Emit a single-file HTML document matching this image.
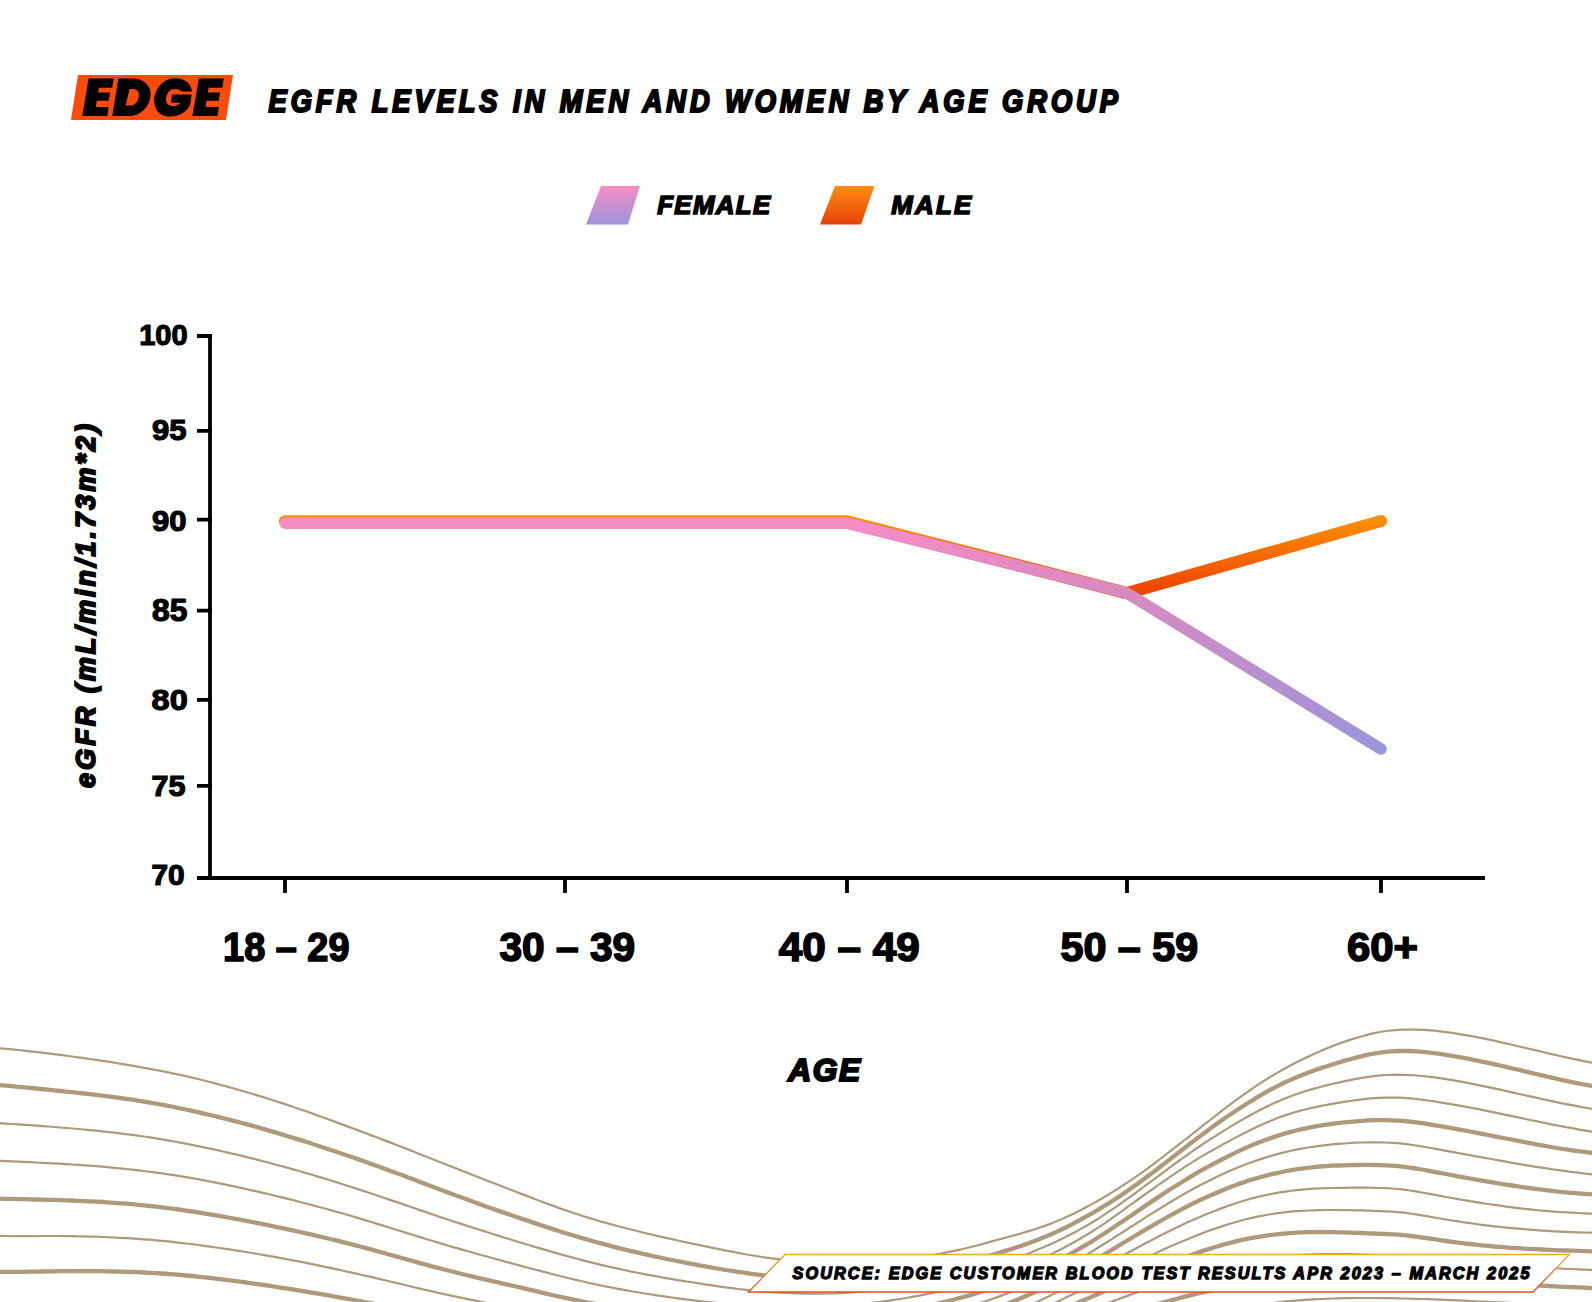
<!DOCTYPE html>
<html><head><meta charset="utf-8">
<style>
html,body{margin:0;padding:0;background:#fff;}
body{width:1592px;height:1302px;overflow:hidden;position:relative;}
svg{position:absolute;left:0;top:0;}
.t{font-family:"Liberation Sans",sans-serif;font-weight:bold;}
.i{font-style:italic;}
.tn{fill:none;stroke:#ae9a7b;stroke-width:2.2;}
.tk{fill:none;stroke:#ae9a7b;stroke-width:4.3;}
</style></head>
<body>
<svg width="1592" height="1302" viewBox="0 0 1592 1302">
<defs>
 <linearGradient id="gF" x1="0" y1="0" x2="0" y2="1">
  <stop offset="0" stop-color="#f78cc4"/><stop offset="1" stop-color="#9d94dc"/>
 </linearGradient>
 <linearGradient id="gM" x1="0" y1="0" x2="0" y2="1">
  <stop offset="0" stop-color="#ff8c10"/><stop offset="1" stop-color="#e8420a"/>
 </linearGradient>
 <linearGradient id="gFl" gradientUnits="userSpaceOnUse" x1="0" y1="522" x2="0" y2="750">
  <stop offset="0" stop-color="#f78cc4"/><stop offset="0.3" stop-color="#d98abf"/><stop offset="1" stop-color="#9b95dc"/>
 </linearGradient>
 <linearGradient id="gMl" gradientUnits="userSpaceOnUse" x1="0" y1="521" x2="0" y2="594">
  <stop offset="0" stop-color="#ff8d00"/><stop offset="1" stop-color="#ec4200"/>
 </linearGradient>
 <linearGradient id="gB" x1="0" y1="0" x2="0" y2="1">
  <stop offset="0" stop-color="#f5a623"/><stop offset="1" stop-color="#e3501c"/>
 </linearGradient>
</defs>
<!-- wavy lines -->
<g>
<path class="tn" d="M-12 1047.4 -6 1047.8 0 1048.3 6 1048.8 12 1049.4 18 1050.0 24 1050.6 30 1051.3 36 1051.9 42 1052.6 48 1053.4 54 1054.1 60 1054.9 66 1055.6 72 1056.5 78 1057.3 84 1058.1 90 1059.0 96 1059.9 102 1060.8 108 1061.7 114 1062.7 120 1063.6 126 1064.6 132 1065.7 138 1066.7 144 1067.8 150 1068.9 156 1070.0 162 1071.2 168 1072.4 174 1073.6 180 1074.9 186 1076.2 192 1077.6 198 1079.0 204 1080.5 210 1082.0 216 1083.6 222 1085.2 228 1086.9 234 1088.5 240 1090.2 246 1092.0 252 1093.8 258 1095.6 264 1097.4 270 1099.3 276 1101.2 282 1103.1 288 1105.1 294 1107.2 300 1109.2 306 1111.3 312 1113.4 318 1115.6 324 1117.8 330 1119.9 336 1122.1 342 1124.4 348 1126.6 354 1128.8 360 1131.1 366 1133.3 372 1135.6 378 1137.8 384 1140.1 390 1142.4 396 1144.7 402 1147.1 408 1149.4 414 1151.8 420 1154.2 426 1156.6 432 1159.0 438 1161.3 444 1163.7 450 1166.1 456 1168.4 462 1170.8 468 1173.1 474 1175.5 480 1177.8 486 1180.2 492 1182.5 498 1184.8 504 1187.2 510 1189.5 516 1191.8 522 1194.1 528 1196.4 534 1198.7 540 1201.0 546 1203.2 552 1205.4 558 1207.6 564 1209.7 570 1211.7 576 1213.7 582 1215.7 588 1217.6 594 1219.4 600 1221.2 606 1222.9 612 1224.5 618 1226.2 624 1227.7 630 1229.3 636 1230.8 642 1232.2 648 1233.7 654 1235.1 660 1236.5 666 1237.9 672 1239.2 678 1240.5 684 1241.8 690 1243.1 696 1244.4 702 1245.6 708 1246.9 714 1248.1 720 1249.4 726 1250.6 732 1251.7 738 1252.9 744 1254.0 750 1255.0 756 1256.0 762 1257.0 768 1257.9 774 1258.7 780 1259.3 786 1259.9 792 1260.5 798 1260.9 804 1261.3 810 1261.6 816 1261.8 822 1262.0 828 1262.2 834 1262.2 840 1262.3 846 1262.2 852 1262.1 858 1262.0 864 1261.8 870 1261.5 876 1261.2 882 1260.8 888 1260.4 894 1259.9 900 1259.3 906 1258.7 912 1258.0 918 1257.2 924 1256.4 930 1255.5 936 1254.5 942 1253.4 948 1252.2 954 1250.9 960 1249.6 966 1248.2 972 1246.7 978 1245.2 984 1243.6 990 1241.9 996 1240.3 1002 1238.6 1008 1237.0 1014 1235.4 1020 1233.7 1026 1231.9 1032 1230.1 1038 1228.2 1044 1226.1 1050 1223.9 1056 1221.5 1062 1219.0 1068 1216.3 1074 1213.4 1080 1210.5 1086 1207.3 1092 1204.1 1098 1200.7 1104 1197.2 1110 1193.6 1116 1189.9 1122 1186.0 1128 1182.1 1134 1178.1 1140 1173.9 1146 1169.6 1152 1165.1 1158 1160.6 1164 1156.0 1170 1151.4 1176 1146.7 1182 1142.0 1188 1137.3 1194 1132.6 1200 1127.9 1206 1123.2 1212 1118.5 1218 1113.8 1224 1109.2 1230 1104.7 1236 1100.2 1242 1095.8 1248 1091.6 1254 1087.4 1260 1083.4 1266 1079.6 1272 1075.9 1278 1072.4 1284 1069.0 1290 1065.8 1296 1062.6 1302 1059.6 1308 1056.7 1314 1053.9 1320 1051.3 1326 1048.7 1332 1046.3 1338 1044.0 1344 1041.9 1350 1039.9 1356 1038.0 1362 1036.2 1368 1034.6 1374 1033.2 1380 1032.0 1386 1031.0 1392 1030.3 1398 1029.8 1404 1029.6 1410 1029.5 1416 1029.6 1422 1029.8 1428 1030.2 1434 1030.7 1440 1031.3 1446 1032.1 1452 1032.9 1458 1033.8 1464 1034.8 1470 1035.9 1476 1037.0 1482 1038.2 1488 1039.4 1494 1040.7 1500 1042.1 1506 1043.4 1512 1044.8 1518 1046.2 1524 1047.6 1530 1049.0 1536 1050.4 1542 1051.8 1548 1053.2 1554 1054.6 1560 1056.0 1566 1057.3 1572 1058.6 1578 1059.9 1584 1061.1 1590 1062.3 1596 1063.4 1602 1064.4"/>
<path class="tk" d="M-12 1084.3 -6 1084.7 0 1085.2 6 1085.7 12 1086.2 18 1086.8 24 1087.3 30 1087.9 36 1088.5 42 1089.1 48 1089.7 54 1090.4 60 1091.0 66 1091.6 72 1092.2 78 1092.9 84 1093.5 90 1094.2 96 1094.9 102 1095.6 108 1096.4 114 1097.2 120 1098.0 126 1098.8 132 1099.7 138 1100.6 144 1101.6 150 1102.6 156 1103.6 162 1104.7 168 1105.8 174 1107.0 180 1108.3 186 1109.5 192 1110.8 198 1112.2 204 1113.6 210 1115.0 216 1116.4 222 1117.9 228 1119.4 234 1120.9 240 1122.5 246 1124.1 252 1125.7 258 1127.4 264 1129.1 270 1130.9 276 1132.6 282 1134.4 288 1136.2 294 1138.1 300 1139.9 306 1141.8 312 1143.8 318 1145.7 324 1147.7 330 1149.7 336 1151.7 342 1153.7 348 1155.8 354 1157.8 360 1159.9 366 1162.0 372 1164.2 378 1166.3 384 1168.5 390 1170.7 396 1172.9 402 1175.1 408 1177.4 414 1179.6 420 1181.9 426 1184.2 432 1186.4 438 1188.7 444 1190.9 450 1193.2 456 1195.4 462 1197.6 468 1199.8 474 1202.0 480 1204.2 486 1206.4 492 1208.5 498 1210.6 504 1212.7 510 1214.8 516 1216.8 522 1218.9 528 1220.9 534 1222.9 540 1224.9 546 1226.9 552 1228.9 558 1230.8 564 1232.7 570 1234.5 576 1236.3 582 1238.1 588 1239.8 594 1241.5 600 1243.1 606 1244.7 612 1246.3 618 1247.8 624 1249.3 630 1250.8 636 1252.2 642 1253.6 648 1254.9 654 1256.3 660 1257.5 666 1258.8 672 1260.0 678 1261.2 684 1262.4 690 1263.6 696 1264.7 702 1265.8 708 1266.9 714 1268.0 720 1269.0 726 1270.0 732 1270.9 738 1271.9 744 1272.7 750 1273.6 756 1274.3 762 1275.1 768 1275.8 774 1276.4 780 1277.0 786 1277.5 792 1278.0 798 1278.4 804 1278.7 810 1278.9 816 1279.1 822 1279.2 828 1279.3 834 1279.3 840 1279.2 846 1279.1 852 1278.9 858 1278.6 864 1278.3 870 1277.9 876 1277.4 882 1276.9 888 1276.3 894 1275.6 900 1274.9 906 1274.1 912 1273.2 918 1272.3 924 1271.2 930 1270.2 936 1269.0 942 1267.7 948 1266.4 954 1265.1 960 1263.6 966 1262.1 972 1260.5 978 1258.9 984 1257.2 990 1255.5 996 1253.7 1002 1251.9 1008 1250.1 1014 1248.2 1020 1246.2 1026 1244.1 1032 1241.9 1038 1239.7 1044 1237.3 1050 1234.8 1056 1232.1 1062 1229.3 1068 1226.4 1074 1223.2 1080 1220.0 1086 1216.7 1092 1213.3 1098 1209.8 1104 1206.2 1110 1202.5 1116 1198.6 1122 1194.6 1128 1190.5 1134 1186.3 1140 1182.0 1146 1177.6 1152 1173.1 1158 1168.5 1164 1163.9 1170 1159.3 1176 1154.6 1182 1150.0 1188 1145.3 1194 1140.7 1200 1136.2 1206 1131.7 1212 1127.3 1218 1123.0 1224 1118.8 1230 1114.7 1236 1110.7 1242 1106.8 1248 1103.0 1254 1099.3 1260 1095.7 1266 1092.2 1272 1088.9 1278 1085.8 1284 1082.8 1290 1080.1 1296 1077.5 1302 1075.0 1308 1072.7 1314 1070.5 1320 1068.4 1326 1066.5 1332 1064.6 1338 1062.7 1344 1060.9 1350 1059.2 1356 1057.6 1362 1056.1 1368 1054.7 1374 1053.5 1380 1052.6 1386 1051.8 1392 1051.3 1398 1051.0 1404 1050.9 1410 1051.0 1416 1051.3 1422 1051.8 1428 1052.4 1434 1053.1 1440 1053.9 1446 1054.8 1452 1055.8 1458 1056.8 1464 1057.9 1470 1059.1 1476 1060.3 1482 1061.6 1488 1062.9 1494 1064.2 1500 1065.5 1506 1066.9 1512 1068.3 1518 1069.7 1524 1071.1 1530 1072.6 1536 1074.0 1542 1075.4 1548 1076.8 1554 1078.2 1560 1079.6 1566 1080.9 1572 1082.1 1578 1083.3 1584 1084.5 1590 1085.6 1596 1086.7 1602 1087.7"/>
<path class="tn" d="M-12 1122.4 -6 1122.8 0 1123.2 6 1123.6 12 1124.0 18 1124.4 24 1124.8 30 1125.2 36 1125.6 42 1126.1 48 1126.5 54 1127.0 60 1127.5 66 1128.0 72 1128.5 78 1129.0 84 1129.5 90 1130.1 96 1130.7 102 1131.3 108 1132.0 114 1132.6 120 1133.3 126 1134.1 132 1134.9 138 1135.7 144 1136.5 150 1137.4 156 1138.4 162 1139.4 168 1140.4 174 1141.5 180 1142.6 186 1143.7 192 1144.9 198 1146.1 204 1147.4 210 1148.6 216 1149.9 222 1151.3 228 1152.6 234 1154.0 240 1155.4 246 1156.9 252 1158.4 258 1159.9 264 1161.5 270 1163.0 276 1164.7 282 1166.3 288 1167.9 294 1169.6 300 1171.3 306 1173.1 312 1174.8 318 1176.6 324 1178.4 330 1180.3 336 1182.1 342 1184.0 348 1186.0 354 1187.9 360 1189.9 366 1191.8 372 1193.8 378 1195.8 384 1197.8 390 1199.9 396 1201.9 402 1203.9 408 1206.0 414 1208.0 420 1210.1 426 1212.1 432 1214.2 438 1216.2 444 1218.2 450 1220.2 456 1222.2 462 1224.1 468 1226.1 474 1228.0 480 1229.9 486 1231.8 492 1233.7 498 1235.6 504 1237.5 510 1239.3 516 1241.2 522 1243.0 528 1244.8 534 1246.6 540 1248.4 546 1250.1 552 1251.9 558 1253.6 564 1255.3 570 1256.9 576 1258.5 582 1260.1 588 1261.6 594 1263.1 600 1264.6 606 1266.0 612 1267.4 618 1268.7 624 1270.0 630 1271.3 636 1272.5 642 1273.7 648 1274.8 654 1275.9 660 1277.0 666 1278.1 672 1279.1 678 1280.1 684 1281.1 690 1282.0 696 1282.9 702 1283.9 708 1284.8 714 1285.7 720 1286.6 726 1287.4 732 1288.2 738 1289.0 744 1289.7 750 1290.4 756 1290.9 762 1291.5 768 1291.9 774 1292.3 780 1292.7 786 1293.0 792 1293.2 798 1293.4 804 1293.6 810 1293.6 816 1293.6 822 1293.6 828 1293.5 834 1293.3 840 1293.1 846 1292.8 852 1292.4 858 1292.0 864 1291.5 870 1291.0 876 1290.4 882 1289.7 888 1289.0 894 1288.2 900 1287.3 906 1286.4 912 1285.5 918 1284.4 924 1283.3 930 1282.2 936 1280.9 942 1279.7 948 1278.3 954 1276.9 960 1275.4 966 1273.9 972 1272.3 978 1270.6 984 1268.9 990 1267.1 996 1265.2 1002 1263.2 1008 1261.2 1014 1259.0 1020 1256.8 1026 1254.5 1032 1252.1 1038 1249.5 1044 1247.0 1050 1244.4 1056 1241.7 1062 1238.8 1068 1235.8 1074 1232.7 1080 1229.4 1086 1226.0 1092 1222.5 1098 1218.8 1104 1214.9 1110 1210.9 1116 1206.8 1122 1202.7 1128 1198.4 1134 1194.1 1140 1189.7 1146 1185.2 1152 1180.8 1158 1176.3 1164 1171.8 1170 1167.4 1176 1163.0 1182 1158.6 1188 1154.3 1194 1150.1 1200 1146.0 1206 1142.0 1212 1138.2 1218 1134.4 1224 1130.6 1230 1126.9 1236 1123.4 1242 1119.9 1248 1116.5 1254 1113.2 1260 1110.0 1266 1107.0 1272 1104.1 1278 1101.4 1284 1098.8 1290 1096.5 1296 1094.3 1302 1092.3 1308 1090.4 1314 1088.6 1320 1087.0 1326 1085.4 1332 1084.0 1338 1082.7 1344 1081.4 1350 1080.1 1356 1078.9 1362 1077.8 1368 1076.9 1374 1076.1 1380 1075.4 1386 1075.0 1392 1074.8 1398 1074.7 1404 1074.8 1410 1075.1 1416 1075.5 1422 1076.0 1428 1076.6 1434 1077.4 1440 1078.2 1446 1079.1 1452 1080.1 1458 1081.1 1464 1082.2 1470 1083.4 1476 1084.6 1482 1085.8 1488 1087.1 1494 1088.4 1500 1089.7 1506 1091.0 1512 1092.3 1518 1093.7 1524 1095.0 1530 1096.4 1536 1097.7 1542 1099.0 1548 1100.3 1554 1101.6 1560 1102.9 1566 1104.1 1572 1105.2 1578 1106.4 1584 1107.5 1590 1108.5 1596 1109.5 1602 1110.5"/>
<path class="tn" d="M-12 1160.3 -6 1160.5 0 1160.8 6 1161.1 12 1161.4 18 1161.7 24 1161.9 30 1162.2 36 1162.5 42 1162.8 48 1163.1 54 1163.4 60 1163.7 66 1164.1 72 1164.5 78 1164.9 84 1165.3 90 1165.7 96 1166.2 102 1166.7 108 1167.2 114 1167.8 120 1168.4 126 1169.0 132 1169.6 138 1170.3 144 1171.0 150 1171.8 156 1172.6 162 1173.4 168 1174.3 174 1175.2 180 1176.2 186 1177.2 192 1178.2 198 1179.2 204 1180.4 210 1181.5 216 1182.7 222 1183.9 228 1185.1 234 1186.4 240 1187.7 246 1189.0 252 1190.4 258 1191.7 264 1193.1 270 1194.5 276 1196.0 282 1197.4 288 1198.9 294 1200.4 300 1202.0 306 1203.5 312 1205.1 318 1206.7 324 1208.3 330 1210.0 336 1211.6 342 1213.3 348 1215.0 354 1216.8 360 1218.6 366 1220.4 372 1222.2 378 1224.1 384 1225.9 390 1227.8 396 1229.7 402 1231.5 408 1233.4 414 1235.3 420 1237.1 426 1239.0 432 1240.8 438 1242.6 444 1244.4 450 1246.2 456 1247.9 462 1249.6 468 1251.3 474 1253.0 480 1254.7 486 1256.3 492 1258.0 498 1259.6 504 1261.2 510 1262.9 516 1264.5 522 1266.1 528 1267.7 534 1269.3 540 1270.9 546 1272.4 552 1274.0 558 1275.5 564 1277.0 570 1278.5 576 1279.9 582 1281.3 588 1282.7 594 1284.0 600 1285.3 606 1286.5 612 1287.7 618 1288.8 624 1289.9 630 1291.0 636 1292.0 642 1293.0 648 1294.0 654 1294.9 660 1295.8 666 1296.7 672 1297.5 678 1298.3 684 1299.1 690 1299.9 696 1300.6 702 1301.3 708 1302.0 714 1302.7 720 1303.3 726 1303.9 732 1304.4 738 1304.9 744 1305.4 750 1305.8 756 1306.2 762 1306.5 768 1306.8 774 1307.0 780 1307.2 786 1307.3 792 1307.3 798 1307.3 804 1307.3 810 1307.2 816 1307.0 822 1306.8 828 1306.6 834 1306.2 840 1305.9 846 1305.4 852 1304.9 858 1304.4 864 1303.8 870 1303.1 876 1302.4 882 1301.6 888 1300.8 894 1299.9 900 1299.0 906 1298.0 912 1296.9 918 1295.8 924 1294.6 930 1293.4 936 1292.2 942 1290.9 948 1289.5 954 1288.1 960 1286.6 966 1285.0 972 1283.4 978 1281.7 984 1280.0 990 1278.1 996 1276.2 1002 1274.2 1008 1272.1 1014 1269.9 1020 1267.6 1026 1265.2 1032 1262.8 1038 1260.2 1044 1257.5 1050 1254.7 1056 1251.8 1062 1248.7 1068 1245.5 1074 1242.2 1080 1238.8 1086 1235.2 1092 1231.6 1098 1227.7 1104 1223.8 1110 1219.6 1116 1215.4 1122 1211.1 1128 1206.7 1134 1202.4 1140 1198.0 1146 1193.7 1152 1189.5 1158 1185.2 1164 1181.1 1170 1176.9 1176 1172.9 1182 1168.9 1188 1164.9 1194 1161.1 1200 1157.4 1206 1153.9 1212 1150.5 1218 1147.1 1224 1143.8 1230 1140.6 1236 1137.4 1242 1134.2 1248 1131.2 1254 1128.3 1260 1125.4 1266 1122.7 1272 1120.2 1278 1117.8 1284 1115.6 1290 1113.7 1296 1111.9 1302 1110.3 1308 1108.7 1314 1107.4 1320 1106.1 1326 1105.0 1332 1103.9 1338 1102.9 1344 1101.9 1350 1101.0 1356 1100.1 1362 1099.4 1368 1098.7 1374 1098.2 1380 1097.8 1386 1097.6 1392 1097.5 1398 1097.6 1404 1097.9 1410 1098.4 1416 1099.0 1422 1099.7 1428 1100.5 1434 1101.4 1440 1102.3 1446 1103.3 1452 1104.3 1458 1105.3 1464 1106.4 1470 1107.6 1476 1108.7 1482 1109.9 1488 1111.1 1494 1112.4 1500 1113.6 1506 1114.9 1512 1116.2 1518 1117.4 1524 1118.7 1530 1120.0 1536 1121.2 1542 1122.4 1548 1123.7 1554 1124.8 1560 1126.0 1566 1127.1 1572 1128.2 1578 1129.3 1584 1130.3 1590 1131.3 1596 1132.2 1602 1133.1"/>
<path class="tk" d="M-12 1198.2 -6 1198.4 0 1198.6 6 1198.8 12 1198.9 18 1199.1 24 1199.2 30 1199.3 36 1199.5 42 1199.6 48 1199.8 54 1199.9 60 1200.1 66 1200.3 72 1200.5 78 1200.8 84 1201.1 90 1201.3 96 1201.7 102 1202.0 108 1202.4 114 1202.8 120 1203.3 126 1203.7 132 1204.2 138 1204.8 144 1205.4 150 1206.0 156 1206.7 162 1207.4 168 1208.1 174 1208.9 180 1209.7 186 1210.6 192 1211.5 198 1212.4 204 1213.4 210 1214.4 216 1215.4 222 1216.4 228 1217.5 234 1218.6 240 1219.7 246 1220.8 252 1222.0 258 1223.1 264 1224.3 270 1225.6 276 1226.8 282 1228.1 288 1229.4 294 1230.7 300 1232.0 306 1233.4 312 1234.7 318 1236.1 324 1237.5 330 1239.0 336 1240.4 342 1241.9 348 1243.4 354 1244.9 360 1246.5 366 1248.1 372 1249.7 378 1251.4 384 1253.0 390 1254.7 396 1256.4 402 1258.0 408 1259.7 414 1261.4 420 1263.1 426 1264.7 432 1266.3 438 1267.9 444 1269.5 450 1271.0 456 1272.5 462 1274.0 468 1275.5 474 1276.9 480 1278.3 486 1279.7 492 1281.1 498 1282.4 504 1283.8 510 1285.1 516 1286.5 522 1287.9 528 1289.3 534 1290.7 540 1292.1 546 1293.6 552 1295.0 558 1296.3 564 1297.6 570 1298.9 576 1300.1 582 1301.3 588 1302.5 594 1303.6 600 1304.6 606 1305.7 612 1306.7 618 1307.7 624 1308.6 630 1309.5 636 1310.4 642 1311.2 648 1312.0 654 1312.8 660 1313.5 666 1314.2 672 1314.9 678 1315.5 684 1316.1 690 1316.7 696 1317.3 702 1317.8 708 1318.3 714 1318.7 720 1319.1 726 1319.5 732 1319.8 738 1320.1 744 1320.4 750 1320.6 756 1320.8 762 1320.9 768 1321.0 774 1321.1 780 1321.1 786 1321.1 792 1321.0 798 1320.9 804 1320.7 810 1320.5 816 1320.2 822 1319.9 828 1319.5 834 1319.1 840 1318.6 846 1318.1 852 1317.5 858 1316.9 864 1316.2 870 1315.5 876 1314.7 882 1313.8 888 1312.9 894 1312.0 900 1311.0 906 1310.0 912 1308.9 918 1307.7 924 1306.5 930 1305.2 936 1303.9 942 1302.5 948 1301.0 954 1299.5 960 1297.9 966 1296.3 972 1294.6 978 1292.8 984 1290.9 990 1288.9 996 1286.9 1002 1284.8 1008 1282.6 1014 1280.3 1020 1277.9 1026 1275.4 1032 1272.9 1038 1270.2 1044 1267.4 1050 1264.5 1056 1261.5 1062 1258.4 1068 1255.2 1074 1251.9 1080 1248.4 1086 1244.9 1092 1241.3 1098 1237.5 1104 1233.7 1110 1229.8 1116 1225.8 1122 1221.7 1128 1217.7 1134 1213.6 1140 1209.5 1146 1205.4 1152 1201.4 1158 1197.4 1164 1193.4 1170 1189.5 1176 1185.7 1182 1182.0 1188 1178.3 1194 1174.7 1200 1171.2 1206 1167.9 1212 1164.6 1218 1161.5 1224 1158.4 1230 1155.3 1236 1152.4 1242 1149.6 1248 1146.9 1254 1144.3 1260 1141.9 1266 1139.7 1272 1137.6 1278 1135.6 1284 1133.8 1290 1132.1 1296 1130.5 1302 1129.1 1308 1127.8 1314 1126.6 1320 1125.6 1326 1124.6 1332 1123.8 1338 1123.1 1344 1122.4 1350 1121.8 1356 1121.3 1362 1120.8 1368 1120.4 1374 1120.2 1380 1120.1 1386 1120.1 1392 1120.3 1398 1120.6 1404 1121.0 1410 1121.6 1416 1122.4 1422 1123.2 1428 1124.1 1434 1125.1 1440 1126.1 1446 1127.1 1452 1128.2 1458 1129.3 1464 1130.4 1470 1131.5 1476 1132.7 1482 1133.8 1488 1135.0 1494 1136.2 1500 1137.3 1506 1138.5 1512 1139.7 1518 1140.9 1524 1142.0 1530 1143.2 1536 1144.3 1542 1145.4 1548 1146.5 1554 1147.5 1560 1148.5 1566 1149.4 1572 1150.3 1578 1151.1 1584 1151.9 1590 1152.7 1596 1153.5 1602 1154.3"/>
<path class="tn" d="M-12 1235.7 -6 1235.8 0 1235.9 6 1236.0 12 1236.1 18 1236.1 24 1236.1 30 1236.1 36 1236.1 42 1236.0 48 1236.0 54 1236.0 60 1236.0 66 1236.1 72 1236.2 78 1236.3 84 1236.4 90 1236.6 96 1236.7 102 1237.0 108 1237.2 114 1237.5 120 1237.8 126 1238.1 132 1238.4 138 1238.8 144 1239.3 150 1239.7 156 1240.3 162 1240.8 168 1241.4 174 1242.1 180 1242.8 186 1243.5 192 1244.2 198 1245.0 204 1245.8 210 1246.6 216 1247.5 222 1248.3 228 1249.2 234 1250.1 240 1251.1 246 1252.0 252 1253.0 258 1254.0 264 1255.1 270 1256.1 276 1257.2 282 1258.3 288 1259.4 294 1260.6 300 1261.7 306 1262.9 312 1264.1 318 1265.3 324 1266.6 330 1267.9 336 1269.1 342 1270.5 348 1271.8 354 1273.1 360 1274.5 366 1275.9 372 1277.2 378 1278.6 384 1280.0 390 1281.5 396 1282.9 402 1284.3 408 1285.8 414 1287.2 420 1288.6 426 1290.0 432 1291.4 438 1292.8 444 1294.1 450 1295.4 456 1296.7 462 1297.9 468 1299.2 474 1300.4 480 1301.6 486 1302.8 492 1303.9 498 1305.1 504 1306.2 510 1307.4 516 1308.5 522 1309.7 528 1310.8 534 1311.9 540 1313.0 546 1314.1 552 1315.2 558 1316.2 564 1317.3 570 1318.3 576 1319.2 582 1320.2 588 1321.1 594 1322.0 600 1322.9 606 1323.8 612 1324.6 618 1325.4 624 1326.1 630 1326.9 636 1327.6 642 1328.2 648 1328.9 654 1329.5 660 1330.0 666 1330.6 672 1331.1 678 1331.6 684 1332.0 690 1332.4 696 1332.8 702 1333.2 708 1333.5 714 1333.8 720 1334.0 726 1334.2 732 1334.4 738 1334.6 744 1334.7 750 1334.7 756 1334.8 762 1334.8 768 1334.7 774 1334.7 780 1334.5 786 1334.4 792 1334.2 798 1333.9 804 1333.6 810 1333.3 816 1332.9 822 1332.5 828 1332.0 834 1331.5 840 1331.0 846 1330.4 852 1329.7 858 1329.0 864 1328.3 870 1327.5 876 1326.7 882 1325.8 888 1324.8 894 1323.8 900 1322.8 906 1321.7 912 1320.5 918 1319.3 924 1318.0 930 1316.7 936 1315.3 942 1313.8 948 1312.3 954 1310.7 960 1309.1 966 1307.3 972 1305.6 978 1303.7 984 1301.7 990 1299.7 996 1297.6 1002 1295.4 1008 1293.2 1014 1290.8 1020 1288.3 1026 1285.7 1032 1283.1 1038 1280.3 1044 1277.5 1050 1274.6 1056 1271.5 1062 1268.4 1068 1265.2 1074 1261.9 1080 1258.5 1086 1255.1 1092 1251.5 1098 1247.8 1104 1244.0 1110 1240.3 1116 1236.4 1122 1232.6 1128 1228.8 1134 1224.9 1140 1221.1 1146 1217.2 1152 1213.4 1158 1209.7 1164 1206.0 1170 1202.3 1176 1198.7 1182 1195.2 1188 1191.8 1194 1188.5 1200 1185.3 1206 1182.2 1212 1179.2 1218 1176.3 1224 1173.5 1230 1170.8 1236 1168.3 1242 1165.8 1248 1163.5 1254 1161.4 1260 1159.4 1266 1157.4 1272 1155.6 1278 1153.9 1284 1152.4 1290 1151.0 1296 1149.7 1302 1148.6 1308 1147.5 1314 1146.6 1320 1145.8 1326 1145.1 1332 1144.4 1338 1143.9 1344 1143.5 1350 1143.0 1356 1142.7 1362 1142.5 1368 1142.3 1374 1142.3 1380 1142.3 1386 1142.5 1392 1142.8 1398 1143.2 1404 1143.8 1410 1144.6 1416 1145.5 1422 1146.5 1428 1147.5 1434 1148.6 1440 1149.7 1446 1150.8 1452 1151.9 1458 1153.0 1464 1154.1 1470 1155.2 1476 1156.3 1482 1157.4 1488 1158.5 1494 1159.5 1500 1160.6 1506 1161.7 1512 1162.8 1518 1163.8 1524 1164.8 1530 1165.8 1536 1166.8 1542 1167.7 1548 1168.6 1554 1169.5 1560 1170.3 1566 1171.2 1572 1172.0 1578 1172.7 1584 1173.5 1590 1174.2 1596 1174.8 1602 1175.4"/>
<path class="tk" d="M-12 1271.5 -6 1271.7 0 1271.9 6 1271.9 12 1271.9 18 1271.9 24 1271.8 30 1271.7 36 1271.6 42 1271.5 48 1271.4 54 1271.3 60 1271.2 66 1271.2 72 1271.1 78 1271.1 84 1271.1 90 1271.1 96 1271.2 102 1271.2 108 1271.3 114 1271.5 120 1271.6 126 1271.8 132 1272.0 138 1272.2 144 1272.5 150 1272.8 156 1273.2 162 1273.5 168 1274.0 174 1274.4 180 1274.9 186 1275.5 192 1276.0 198 1276.6 204 1277.3 210 1277.9 216 1278.6 222 1279.4 228 1280.1 234 1280.9 240 1281.7 246 1282.5 252 1283.3 258 1284.2 264 1285.0 270 1285.9 276 1286.8 282 1287.8 288 1288.7 294 1289.7 300 1290.6 306 1291.6 312 1292.6 318 1293.6 324 1294.7 330 1295.7 336 1296.8 342 1297.8 348 1298.9 354 1300.0 360 1301.1 366 1302.3 372 1303.4 378 1304.6 384 1305.7 390 1306.9 396 1308.1 402 1309.2 408 1310.4 414 1311.5 420 1312.7 426 1313.8 432 1314.9 438 1316.1 444 1317.2 450 1318.3 456 1319.3 462 1320.4 468 1321.4 474 1322.5 480 1323.5 486 1324.5 492 1325.4 498 1326.4 504 1327.4 510 1328.3 516 1329.2 522 1330.1 528 1331.0 534 1331.9 540 1332.8 546 1333.6 552 1334.5 558 1335.3 564 1336.1 570 1336.8 576 1337.6 582 1338.3 588 1339.0 594 1339.7 600 1340.4 606 1341.0 612 1341.6 618 1342.2 624 1342.8 630 1343.3 636 1343.8 642 1344.3 648 1344.8 654 1345.2 660 1345.6 666 1346.0 672 1346.3 678 1346.7 684 1347.0 690 1347.2 696 1347.4 702 1347.6 708 1347.8 714 1347.9 720 1348.0 726 1348.1 732 1348.1 738 1348.1 744 1348.1 750 1348.0 756 1347.9 762 1347.8 768 1347.6 774 1347.4 780 1347.2 786 1346.9 792 1346.6 798 1346.2 804 1345.8 810 1345.4 816 1344.9 822 1344.4 828 1343.8 834 1343.2 840 1342.6 846 1341.9 852 1341.2 858 1340.4 864 1339.6 870 1338.8 876 1337.8 882 1336.9 888 1335.9 894 1334.8 900 1333.7 906 1332.6 912 1331.4 918 1330.1 924 1328.8 930 1327.4 936 1326.0 942 1324.5 948 1322.9 954 1321.3 960 1319.6 966 1317.9 972 1316.0 978 1314.1 984 1312.2 990 1310.1 996 1308.0 1002 1305.8 1008 1303.5 1014 1301.1 1020 1298.6 1026 1296.0 1032 1293.4 1038 1290.6 1044 1287.7 1050 1284.8 1056 1281.7 1062 1278.6 1068 1275.3 1074 1272.0 1080 1268.6 1086 1265.2 1092 1261.7 1098 1258.1 1104 1254.5 1110 1251.0 1116 1247.3 1122 1243.7 1128 1240.1 1134 1236.5 1140 1232.9 1146 1229.4 1152 1225.9 1158 1222.4 1164 1219.0 1170 1215.6 1176 1212.3 1182 1209.1 1188 1206.0 1194 1203.0 1200 1200.1 1206 1197.4 1212 1194.7 1218 1192.2 1224 1189.8 1230 1187.3 1236 1185.0 1242 1182.9 1248 1180.8 1254 1179.0 1260 1177.2 1266 1175.6 1272 1174.1 1278 1172.8 1284 1171.5 1290 1170.4 1296 1169.4 1302 1168.6 1308 1167.8 1314 1167.1 1320 1166.5 1326 1166.1 1332 1165.7 1338 1165.5 1344 1165.3 1350 1165.1 1356 1165.0 1362 1164.9 1368 1164.9 1374 1165.0 1380 1165.2 1386 1165.4 1392 1165.7 1398 1166.1 1404 1166.8 1410 1167.6 1416 1168.5 1422 1169.5 1428 1170.6 1434 1171.8 1440 1172.9 1446 1174.0 1452 1175.2 1458 1176.3 1464 1177.4 1470 1178.5 1476 1179.6 1482 1180.6 1488 1181.7 1494 1182.7 1500 1183.6 1506 1184.6 1512 1185.5 1518 1186.4 1524 1187.3 1530 1188.1 1536 1188.9 1542 1189.7 1548 1190.4 1554 1191.1 1560 1191.8 1566 1192.3 1572 1192.8 1578 1193.3 1584 1193.8 1590 1194.2 1596 1194.7 1602 1195.1"/>
<path class="tn" d="M-12 1302.9 -6 1303.1 0 1303.3 6 1303.4 12 1303.5 18 1303.5 24 1303.6 30 1303.6 36 1303.6 42 1303.6 48 1303.6 54 1303.6 60 1303.6 66 1303.6 72 1303.6 78 1303.6 84 1303.6 90 1303.6 96 1303.7 102 1303.7 108 1303.8 114 1303.9 120 1304.0 126 1304.1 132 1304.3 138 1304.5 144 1304.7 150 1304.9 156 1305.2 162 1305.4 168 1305.7 174 1306.1 180 1306.4 186 1306.8 192 1307.2 198 1307.7 204 1308.2 210 1308.6 216 1309.2 222 1309.7 228 1310.3 234 1310.9 240 1311.5 246 1312.1 252 1312.7 258 1313.4 264 1314.1 270 1314.8 276 1315.5 282 1316.2 288 1317.0 294 1317.7 300 1318.5 306 1319.3 312 1320.1 318 1320.9 324 1321.7 330 1322.5 336 1323.4 342 1324.2 348 1325.1 354 1326.0 360 1326.8 366 1327.7 372 1328.6 378 1329.5 384 1330.4 390 1331.3 396 1332.2 402 1333.1 408 1334.0 414 1334.9 420 1335.8 426 1336.7 432 1337.5 438 1338.4 444 1339.3 450 1340.1 456 1341.0 462 1341.8 468 1342.6 474 1343.5 480 1344.3 486 1345.0 492 1345.8 498 1346.6 504 1347.3 510 1348.1 516 1348.8 522 1349.5 528 1350.2 534 1350.9 540 1351.5 546 1352.1 552 1352.8 558 1353.4 564 1354.0 570 1354.5 576 1355.1 582 1355.6 588 1356.1 594 1356.6 600 1357.1 606 1357.5 612 1357.9 618 1358.3 624 1358.7 630 1359.1 636 1359.4 642 1359.7 648 1360.0 654 1360.2 660 1360.4 666 1360.6 672 1360.8 678 1361.0 684 1361.1 690 1361.2 696 1361.3 702 1361.3 708 1361.3 714 1361.3 720 1361.2 726 1361.1 732 1361.0 738 1360.9 744 1360.7 750 1360.5 756 1360.3 762 1360.0 768 1359.7 774 1359.4 780 1359.0 786 1358.6 792 1358.1 798 1357.7 804 1357.2 810 1356.6 816 1356.0 822 1355.4 828 1354.7 834 1354.0 840 1353.3 846 1352.5 852 1351.7 858 1350.8 864 1349.9 870 1349.0 876 1348.0 882 1347.0 888 1345.9 894 1344.8 900 1343.6 906 1342.4 912 1341.2 918 1339.9 924 1338.5 930 1337.1 936 1335.6 942 1334.1 948 1332.6 954 1330.9 960 1329.3 966 1327.5 972 1325.7 978 1323.9 984 1321.9 990 1320.0 996 1317.9 1002 1315.8 1008 1313.6 1014 1311.3 1020 1308.9 1026 1306.5 1032 1304.0 1038 1301.4 1044 1298.6 1050 1295.7 1056 1292.8 1062 1289.7 1068 1286.5 1074 1283.3 1080 1280.0 1086 1276.6 1092 1273.3 1098 1269.9 1104 1266.4 1110 1263.0 1116 1259.6 1122 1256.2 1128 1252.8 1134 1249.5 1140 1246.3 1146 1243.0 1152 1239.9 1158 1236.7 1164 1233.7 1170 1230.7 1176 1227.8 1182 1224.9 1188 1222.1 1194 1219.5 1200 1216.9 1206 1214.3 1212 1211.9 1218 1209.6 1224 1207.4 1230 1205.2 1236 1203.2 1242 1201.3 1248 1199.5 1254 1197.9 1260 1196.4 1266 1195.0 1272 1193.8 1278 1192.7 1284 1191.8 1290 1191.0 1296 1190.2 1302 1189.6 1308 1189.1 1314 1188.7 1320 1188.4 1326 1188.2 1332 1188.0 1338 1187.9 1344 1187.8 1350 1187.7 1356 1187.7 1362 1187.7 1368 1187.7 1374 1187.8 1380 1188.0 1386 1188.2 1392 1188.5 1398 1189.0 1404 1189.7 1410 1190.5 1416 1191.4 1422 1192.5 1428 1193.6 1434 1194.7 1440 1195.9 1446 1197.0 1452 1198.0 1458 1199.1 1464 1200.1 1470 1201.2 1476 1202.1 1482 1203.1 1488 1204.0 1494 1204.9 1500 1205.7 1506 1206.6 1512 1207.3 1518 1208.1 1524 1208.8 1530 1209.4 1536 1210.0 1542 1210.6 1548 1211.1 1554 1211.6 1560 1212.0 1566 1212.4 1572 1212.7 1578 1213.0 1584 1213.3 1590 1213.6 1596 1213.9 1602 1214.2"/>
<path class="tn" d="M-12 1331.8 -6 1332.0 0 1332.2 6 1332.3 12 1332.5 18 1332.6 24 1332.7 30 1332.9 36 1333.0 42 1333.0 48 1333.1 54 1333.2 60 1333.3 66 1333.4 72 1333.4 78 1333.5 84 1333.6 90 1333.7 96 1333.8 102 1333.9 108 1334.0 114 1334.1 120 1334.2 126 1334.3 132 1334.5 138 1334.6 144 1334.8 150 1335.0 156 1335.2 162 1335.5 168 1335.7 174 1336.0 180 1336.2 186 1336.5 192 1336.8 198 1337.2 204 1337.5 210 1337.9 216 1338.3 222 1338.7 228 1339.1 234 1339.5 240 1340.0 246 1340.4 252 1340.9 258 1341.4 264 1341.9 270 1342.4 276 1343.0 282 1343.5 288 1344.1 294 1344.6 300 1345.2 306 1345.8 312 1346.4 318 1347.0 324 1347.6 330 1348.2 336 1348.9 342 1349.5 348 1350.2 354 1350.8 360 1351.5 366 1352.1 372 1352.8 378 1353.4 384 1354.1 390 1354.8 396 1355.4 402 1356.1 408 1356.8 414 1357.4 420 1358.1 426 1358.7 432 1359.4 438 1360.0 444 1360.7 450 1361.3 456 1361.9 462 1362.5 468 1363.1 474 1363.7 480 1364.3 486 1364.9 492 1365.5 498 1366.0 504 1366.5 510 1367.1 516 1367.6 522 1368.1 528 1368.6 534 1369.0 540 1369.5 546 1369.9 552 1370.4 558 1370.8 564 1371.1 570 1371.5 576 1371.9 582 1372.2 588 1372.5 594 1372.8 600 1373.1 606 1373.3 612 1373.6 618 1373.8 624 1374.0 630 1374.2 636 1374.3 642 1374.4 648 1374.5 654 1374.6 660 1374.7 666 1374.7 672 1374.7 678 1374.7 684 1374.6 690 1374.6 696 1374.5 702 1374.4 708 1374.2 714 1374.0 720 1373.8 726 1373.6 732 1373.3 738 1373.0 744 1372.7 750 1372.4 756 1372.0 762 1371.6 768 1371.1 774 1370.6 780 1370.1 786 1369.6 792 1369.0 798 1368.4 804 1367.8 810 1367.1 816 1366.4 822 1365.7 828 1364.9 834 1364.1 840 1363.2 846 1362.3 852 1361.4 858 1360.4 864 1359.4 870 1358.4 876 1357.3 882 1356.2 888 1355.0 894 1353.8 900 1352.6 906 1351.3 912 1350.0 918 1348.6 924 1347.2 930 1345.7 936 1344.2 942 1342.6 948 1341.0 954 1339.4 960 1337.6 966 1335.9 972 1334.1 978 1332.2 984 1330.3 990 1328.3 996 1326.2 1002 1324.1 1008 1321.9 1014 1319.7 1020 1317.4 1026 1315.0 1032 1312.6 1038 1310.1 1044 1307.5 1050 1304.9 1056 1302.2 1062 1299.4 1068 1296.6 1074 1293.7 1080 1290.7 1086 1287.8 1092 1284.8 1098 1281.8 1104 1278.8 1110 1275.7 1116 1272.7 1122 1269.7 1128 1266.7 1134 1263.7 1140 1260.7 1146 1257.8 1152 1254.9 1158 1252.1 1164 1249.3 1170 1246.6 1176 1244.0 1182 1241.4 1188 1238.9 1194 1236.4 1200 1234.1 1206 1231.8 1212 1229.6 1218 1227.6 1224 1225.6 1230 1223.7 1236 1222.0 1242 1220.3 1248 1218.8 1254 1217.4 1260 1216.2 1266 1215.0 1272 1214.0 1278 1213.1 1284 1212.4 1290 1211.7 1296 1211.2 1302 1210.8 1308 1210.5 1314 1210.3 1320 1210.1 1326 1210.0 1332 1210.0 1338 1210.0 1344 1210.1 1350 1210.2 1356 1210.3 1362 1210.4 1368 1210.6 1374 1210.8 1380 1211.1 1386 1211.4 1392 1211.7 1398 1212.1 1404 1212.7 1410 1213.5 1416 1214.4 1422 1215.4 1428 1216.4 1434 1217.5 1440 1218.5 1446 1219.5 1452 1220.5 1458 1221.4 1464 1222.3 1470 1223.2 1476 1224.0 1482 1224.8 1488 1225.6 1494 1226.3 1500 1226.9 1506 1227.6 1512 1228.2 1518 1228.7 1524 1229.2 1530 1229.7 1536 1230.2 1542 1230.6 1548 1230.9 1554 1231.3 1560 1231.6 1566 1231.8 1572 1232.1 1578 1232.3 1584 1232.5 1590 1232.7 1596 1232.9 1602 1233.2"/>
<path class="tk" d="M-12 1359.2 -6 1359.4 0 1359.6 6 1359.8 12 1359.9 18 1360.1 24 1360.2 30 1360.4 36 1360.5 42 1360.7 48 1360.8 54 1360.9 60 1361.0 66 1361.2 72 1361.3 78 1361.4 84 1361.5 90 1361.6 96 1361.8 102 1361.9 108 1362.0 114 1362.1 120 1362.3 126 1362.4 132 1362.6 138 1362.7 144 1362.9 150 1363.1 156 1363.2 162 1363.4 168 1363.6 174 1363.8 180 1364.0 186 1364.3 192 1364.5 198 1364.8 204 1365.0 210 1365.3 216 1365.6 222 1365.9 228 1366.2 234 1366.5 240 1366.8 246 1367.2 252 1367.5 258 1367.9 264 1368.2 270 1368.6 276 1369.0 282 1369.4 288 1369.8 294 1370.2 300 1370.6 306 1371.0 312 1371.4 318 1371.9 324 1372.3 330 1372.7 336 1373.2 342 1373.6 348 1374.1 354 1374.5 360 1375.0 366 1375.5 372 1375.9 378 1376.4 384 1376.8 390 1377.3 396 1377.8 402 1378.2 408 1378.7 414 1379.1 420 1379.6 426 1380.0 432 1380.5 438 1380.9 444 1381.3 450 1381.8 456 1382.2 462 1382.6 468 1383.0 474 1383.4 480 1383.7 486 1384.1 492 1384.5 498 1384.8 504 1385.2 510 1385.5 516 1385.8 522 1386.1 528 1386.4 534 1386.7 540 1386.9 546 1387.2 552 1387.4 558 1387.6 564 1387.8 570 1388.0 576 1388.2 582 1388.3 588 1388.5 594 1388.6 600 1388.7 606 1388.8 612 1388.8 618 1388.9 624 1388.9 630 1388.9 636 1388.8 642 1388.8 648 1388.7 654 1388.6 660 1388.5 666 1388.4 672 1388.2 678 1388.1 684 1387.9 690 1387.6 696 1387.4 702 1387.1 708 1386.8 714 1386.5 720 1386.1 726 1385.7 732 1385.3 738 1384.9 744 1384.4 750 1383.9 756 1383.4 762 1382.8 768 1382.3 774 1381.6 780 1381.0 786 1380.3 792 1379.6 798 1378.9 804 1378.1 810 1377.3 816 1376.5 822 1375.6 828 1374.7 834 1373.8 840 1372.9 846 1371.9 852 1370.8 858 1369.8 864 1368.7 870 1367.5 876 1366.3 882 1365.1 888 1363.9 894 1362.6 900 1361.2 906 1359.9 912 1358.5 918 1357.0 924 1355.5 930 1354.0 936 1352.4 942 1350.8 948 1349.2 954 1347.5 960 1345.7 966 1343.9 972 1342.1 978 1340.2 984 1338.3 990 1336.3 996 1334.3 1002 1332.3 1008 1330.2 1014 1328.0 1020 1325.8 1026 1323.6 1032 1321.3 1038 1319.0 1044 1316.6 1050 1314.3 1056 1311.8 1062 1309.4 1068 1306.9 1074 1304.4 1080 1301.8 1086 1299.2 1092 1296.6 1098 1294.0 1104 1291.4 1110 1288.7 1116 1286.0 1122 1283.4 1128 1280.7 1134 1278.1 1140 1275.5 1146 1273.0 1152 1270.4 1158 1267.9 1164 1265.5 1170 1263.1 1176 1260.7 1182 1258.4 1188 1256.2 1194 1254.0 1200 1251.9 1206 1249.9 1212 1248.0 1218 1246.2 1224 1244.4 1230 1242.8 1236 1241.3 1242 1239.9 1248 1238.7 1254 1237.6 1260 1236.6 1266 1235.6 1272 1234.8 1278 1234.2 1284 1233.6 1290 1233.1 1296 1232.7 1302 1232.4 1308 1232.2 1314 1232.1 1320 1232.0 1326 1232.1 1332 1232.1 1338 1232.3 1344 1232.4 1350 1232.6 1356 1232.8 1362 1233.0 1368 1233.3 1374 1233.5 1380 1233.8 1386 1234.0 1392 1234.3 1398 1234.7 1404 1235.2 1410 1235.9 1416 1236.7 1422 1237.5 1428 1238.4 1434 1239.2 1440 1240.1 1446 1241.0 1452 1241.8 1458 1242.6 1464 1243.3 1470 1244.0 1476 1244.7 1482 1245.4 1488 1245.9 1494 1246.5 1500 1246.9 1506 1247.4 1512 1247.8 1518 1248.2 1524 1248.6 1530 1248.9 1536 1249.2 1542 1249.5 1548 1249.8 1554 1250.1 1560 1250.3 1566 1250.5 1572 1250.7 1578 1250.9 1584 1251.1 1590 1251.3 1596 1251.5 1602 1251.8"/>
<path class="tn" d="M-12 1385.3 -6 1385.5 0 1385.7 6 1385.9 12 1386.1 18 1386.2 24 1386.4 30 1386.6 36 1386.7 42 1386.9 48 1387.0 54 1387.1 60 1387.3 66 1387.4 72 1387.6 78 1387.7 84 1387.8 90 1387.9 96 1388.1 102 1388.2 108 1388.3 114 1388.5 120 1388.6 126 1388.7 132 1388.9 138 1389.0 144 1389.1 150 1389.3 156 1389.4 162 1389.6 168 1389.8 174 1389.9 180 1390.1 186 1390.3 192 1390.4 198 1390.6 204 1390.8 210 1391.0 216 1391.2 222 1391.4 228 1391.6 234 1391.9 240 1392.1 246 1392.3 252 1392.5 258 1392.8 264 1393.0 270 1393.3 276 1393.5 282 1393.8 288 1394.1 294 1394.3 300 1394.6 306 1394.9 312 1395.2 318 1395.4 324 1395.7 330 1396.0 336 1396.3 342 1396.6 348 1396.9 354 1397.2 360 1397.5 366 1397.8 372 1398.0 378 1398.3 384 1398.6 390 1398.9 396 1399.2 402 1399.5 408 1399.7 414 1400.0 420 1400.3 426 1400.6 432 1400.8 438 1401.1 444 1401.3 450 1401.5 456 1401.8 462 1402.0 468 1402.2 474 1402.4 480 1402.6 486 1402.8 492 1403.0 498 1403.2 504 1403.3 510 1403.5 516 1403.6 522 1403.7 528 1403.8 534 1403.9 540 1404.0 546 1404.1 552 1404.2 558 1404.2 564 1404.2 570 1404.2 576 1404.2 582 1404.2 588 1404.2 594 1404.1 600 1404.1 606 1404.0 612 1403.9 618 1403.7 624 1403.6 630 1403.4 636 1403.2 642 1403.0 648 1402.8 654 1402.6 660 1402.3 666 1402.0 672 1401.7 678 1401.4 684 1401.0 690 1400.7 696 1400.3 702 1399.8 708 1399.4 714 1398.9 720 1398.4 726 1397.9 732 1397.4 738 1396.8 744 1396.2 750 1395.6 756 1394.9 762 1394.2 768 1393.5 774 1392.8 780 1392.1 786 1391.3 792 1390.4 798 1389.6 804 1388.7 810 1387.8 816 1386.9 822 1385.9 828 1384.9 834 1383.9 840 1382.9 846 1381.8 852 1380.6 858 1379.5 864 1378.3 870 1377.1 876 1375.8 882 1374.6 888 1373.2 894 1371.9 900 1370.5 906 1369.1 912 1367.6 918 1366.2 924 1364.6 930 1363.1 936 1361.5 942 1359.9 948 1358.2 954 1356.5 960 1354.8 966 1353.0 972 1351.2 978 1349.4 984 1347.5 990 1345.6 996 1343.6 1002 1341.7 1008 1339.7 1014 1337.6 1020 1335.6 1026 1333.5 1032 1331.4 1038 1329.2 1044 1327.0 1050 1324.9 1056 1322.6 1062 1320.4 1068 1318.1 1074 1315.9 1080 1313.6 1086 1311.3 1092 1309.0 1098 1306.7 1104 1304.4 1110 1302.2 1116 1300.0 1122 1297.8 1128 1295.6 1134 1293.5 1140 1291.3 1146 1289.2 1152 1287.1 1158 1285.1 1164 1283.1 1170 1281.1 1176 1279.1 1182 1277.2 1188 1275.4 1194 1273.6 1200 1271.9 1206 1270.3 1212 1268.7 1218 1267.2 1224 1265.8 1230 1264.4 1236 1263.1 1242 1262.0 1248 1260.9 1254 1259.9 1260 1259.0 1266 1258.1 1272 1257.4 1278 1256.7 1284 1256.2 1290 1255.7 1296 1255.2 1302 1254.9 1308 1254.6 1314 1254.4 1320 1254.2 1326 1254.1 1332 1254.1 1338 1254.1 1344 1254.1 1350 1254.2 1356 1254.4 1362 1254.6 1368 1254.8 1374 1255.0 1380 1255.3 1386 1255.6 1392 1256.0 1398 1256.4 1404 1256.8 1410 1257.3 1416 1257.7 1422 1258.3 1428 1258.8 1434 1259.3 1440 1259.9 1446 1260.5 1452 1261.0 1458 1261.6 1464 1262.1 1470 1262.7 1476 1263.2 1482 1263.7 1488 1264.2 1494 1264.6 1500 1265.1 1506 1265.5 1512 1265.9 1518 1266.3 1524 1266.6 1530 1267.0 1536 1267.3 1542 1267.6 1548 1267.9 1554 1268.2 1560 1268.5 1566 1268.8 1572 1269.0 1578 1269.3 1584 1269.6 1590 1269.8 1596 1270.1 1602 1270.3"/>
<path class="tk" d="M-12 1410.4 -6 1410.6 0 1410.8 6 1410.9 12 1411.1 18 1411.3 24 1411.4 30 1411.6 36 1411.7 42 1411.9 48 1412.0 54 1412.2 60 1412.3 66 1412.4 72 1412.5 78 1412.7 84 1412.8 90 1412.9 96 1413.0 102 1413.1 108 1413.3 114 1413.4 120 1413.5 126 1413.6 132 1413.7 138 1413.8 144 1413.9 150 1414.0 156 1414.2 162 1414.3 168 1414.4 174 1414.5 180 1414.6 186 1414.8 192 1414.9 198 1415.0 204 1415.1 210 1415.3 216 1415.4 222 1415.5 228 1415.7 234 1415.8 240 1415.9 246 1416.1 252 1416.2 258 1416.4 264 1416.5 270 1416.7 276 1416.8 282 1417.0 288 1417.1 294 1417.3 300 1417.4 306 1417.6 312 1417.8 318 1417.9 324 1418.1 330 1418.2 336 1418.4 342 1418.5 348 1418.7 354 1418.8 360 1419.0 366 1419.1 372 1419.3 378 1419.4 384 1419.6 390 1419.7 396 1419.8 402 1419.9 408 1420.1 414 1420.2 420 1420.3 426 1420.4 432 1420.5 438 1420.6 444 1420.7 450 1420.8 456 1420.9 462 1420.9 468 1421.0 474 1421.0 480 1421.1 486 1421.1 492 1421.1 498 1421.1 504 1421.1 510 1421.1 516 1421.1 522 1421.1 528 1421.0 534 1421.0 540 1420.9 546 1420.8 552 1420.7 558 1420.6 564 1420.5 570 1420.3 576 1420.2 582 1420.0 588 1419.8 594 1419.6 600 1419.4 606 1419.2 612 1418.9 618 1418.6 624 1418.4 630 1418.1 636 1417.7 642 1417.4 648 1417.0 654 1416.7 660 1416.3 666 1415.8 672 1415.4 678 1414.9 684 1414.5 690 1414.0 696 1413.4 702 1412.9 708 1412.3 714 1411.7 720 1411.1 726 1410.5 732 1409.8 738 1409.2 744 1408.5 750 1407.7 756 1407.0 762 1406.2 768 1405.4 774 1404.6 780 1403.7 786 1402.9 792 1402.0 798 1401.0 804 1400.1 810 1399.1 816 1398.1 822 1397.1 828 1396.0 834 1394.9 840 1393.8 846 1392.6 852 1391.5 858 1390.3 864 1389.1 870 1387.8 876 1386.5 882 1385.2 888 1383.9 894 1382.5 900 1381.1 906 1379.7 912 1378.2 918 1376.8 924 1375.3 930 1373.7 936 1372.2 942 1370.6 948 1369.0 954 1367.3 960 1365.7 966 1364.0 972 1362.3 978 1360.5 984 1358.7 990 1357.0 996 1355.1 1002 1353.3 1008 1351.5 1014 1349.6 1020 1347.7 1026 1345.8 1032 1343.9 1038 1341.9 1044 1340.0 1050 1338.0 1056 1336.1 1062 1334.1 1068 1332.1 1074 1330.2 1080 1328.2 1086 1326.2 1092 1324.3 1098 1322.3 1104 1320.4 1110 1318.5 1116 1316.6 1122 1314.7 1128 1312.8 1134 1311.0 1140 1309.2 1146 1307.4 1152 1305.6 1158 1303.9 1164 1302.2 1170 1300.6 1176 1299.0 1182 1297.4 1188 1295.9 1194 1294.4 1200 1293.0 1206 1291.6 1212 1290.3 1218 1289.0 1224 1287.8 1230 1286.6 1236 1285.5 1242 1284.4 1248 1283.5 1254 1282.5 1260 1281.7 1266 1280.9 1272 1280.2 1278 1279.5 1284 1278.9 1290 1278.4 1296 1277.9 1302 1277.4 1308 1277.1 1314 1276.8 1320 1276.5 1326 1276.3 1332 1276.2 1338 1276.1 1344 1276.0 1350 1276.0 1356 1276.0 1362 1276.1 1368 1276.2 1374 1276.3 1380 1276.5 1386 1276.7 1392 1276.9 1398 1277.2 1404 1277.4 1410 1277.7 1416 1278.0 1422 1278.4 1428 1278.7 1434 1279.1 1440 1279.4 1446 1279.8 1452 1280.2 1458 1280.6 1464 1281.0 1470 1281.4 1476 1281.8 1482 1282.1 1488 1282.5 1494 1282.9 1500 1283.3 1506 1283.6 1512 1284.0 1518 1284.3 1524 1284.7 1530 1285.0 1536 1285.3 1542 1285.6 1548 1286.0 1554 1286.3 1560 1286.6 1566 1286.8 1572 1287.1 1578 1287.4 1584 1287.7 1590 1288.0 1596 1288.3 1602 1288.6"/>
<path class="tn" d="M-12 1434.6 -6 1434.8 0 1434.9 6 1435.1 12 1435.2 18 1435.4 24 1435.5 30 1435.6 36 1435.8 42 1435.9 48 1436.0 54 1436.1 60 1436.3 66 1436.4 72 1436.5 78 1436.6 84 1436.7 90 1436.8 96 1436.9 102 1437.0 108 1437.0 114 1437.1 120 1437.2 126 1437.3 132 1437.4 138 1437.5 144 1437.5 150 1437.6 156 1437.7 162 1437.8 168 1437.8 174 1437.9 180 1438.0 186 1438.0 192 1438.1 198 1438.2 204 1438.3 210 1438.3 216 1438.4 222 1438.5 228 1438.5 234 1438.6 240 1438.7 246 1438.7 252 1438.8 258 1438.9 264 1438.9 270 1439.0 276 1439.0 282 1439.1 288 1439.2 294 1439.2 300 1439.3 306 1439.3 312 1439.4 318 1439.4 324 1439.5 330 1439.5 336 1439.6 342 1439.6 348 1439.6 354 1439.7 360 1439.7 366 1439.7 372 1439.8 378 1439.8 384 1439.8 390 1439.8 396 1439.8 402 1439.8 408 1439.8 414 1439.8 420 1439.8 426 1439.7 432 1439.7 438 1439.7 444 1439.6 450 1439.6 456 1439.5 462 1439.4 468 1439.4 474 1439.3 480 1439.2 486 1439.1 492 1439.0 498 1438.8 504 1438.7 510 1438.6 516 1438.4 522 1438.2 528 1438.1 534 1437.9 540 1437.7 546 1437.5 552 1437.2 558 1437.0 564 1436.7 570 1436.5 576 1436.2 582 1435.9 588 1435.6 594 1435.2 600 1434.9 606 1434.6 612 1434.2 618 1433.8 624 1433.4 630 1433.0 636 1432.5 642 1432.1 648 1431.6 654 1431.1 660 1430.6 666 1430.1 672 1429.5 678 1429.0 684 1428.4 690 1427.8 696 1427.2 702 1426.5 708 1425.9 714 1425.2 720 1424.5 726 1423.8 732 1423.0 738 1422.3 744 1421.5 750 1420.7 756 1419.9 762 1419.0 768 1418.2 774 1417.3 780 1416.4 786 1415.4 792 1414.5 798 1413.5 804 1412.5 810 1411.5 816 1410.4 822 1409.4 828 1408.3 834 1407.2 840 1406.0 846 1404.9 852 1403.7 858 1402.5 864 1401.2 870 1400.0 876 1398.7 882 1397.4 888 1396.1 894 1394.8 900 1393.4 906 1392.0 912 1390.6 918 1389.2 924 1387.7 930 1386.3 936 1384.8 942 1383.3 948 1381.8 954 1380.2 960 1378.7 966 1377.1 972 1375.5 978 1373.9 984 1372.2 990 1370.6 996 1368.9 1002 1367.3 1008 1365.6 1014 1363.9 1020 1362.2 1026 1360.5 1032 1358.8 1038 1357.1 1044 1355.4 1050 1353.6 1056 1351.9 1062 1350.2 1068 1348.5 1074 1346.8 1080 1345.0 1086 1343.3 1092 1341.7 1098 1340.0 1104 1338.3 1110 1336.6 1116 1335.0 1122 1333.4 1128 1331.8 1134 1330.2 1140 1328.6 1146 1327.1 1152 1325.6 1158 1324.1 1164 1322.7 1170 1321.3 1176 1319.9 1182 1318.5 1188 1317.2 1194 1315.9 1200 1314.7 1206 1313.4 1212 1312.3 1218 1311.1 1224 1310.1 1230 1309.0 1236 1308.0 1242 1307.1 1248 1306.1 1254 1305.3 1260 1304.5 1266 1303.7 1272 1303.0 1278 1302.3 1284 1301.7 1290 1301.1 1296 1300.6 1302 1300.1 1308 1299.7 1314 1299.3 1320 1299.0 1326 1298.8 1332 1298.5 1338 1298.4 1344 1298.2 1350 1298.1 1356 1298.0 1362 1298.0 1368 1298.0 1374 1298.0 1380 1298.1 1386 1298.1 1392 1298.2 1398 1298.3 1404 1298.5 1410 1298.6 1416 1298.8 1422 1299.0 1428 1299.2 1434 1299.4 1440 1299.7 1446 1299.9 1452 1300.2 1458 1300.4 1464 1300.7 1470 1301.0 1476 1301.3 1482 1301.6 1488 1301.8 1494 1302.1 1500 1302.4 1506 1302.7 1512 1303.0 1518 1303.3 1524 1303.6 1530 1303.9 1536 1304.2 1542 1304.5 1548 1304.8 1554 1305.0 1560 1305.3 1566 1305.6 1572 1305.9 1578 1306.2 1584 1306.5 1590 1306.8 1596 1307.0 1602 1307.3"/>
</g>
<!-- source box -->
<polygon points="785,1254.5 1569.5,1254.5 1533,1292 748.5,1292" fill="#fff" stroke="url(#gB)" stroke-width="1.3"/>
<text class="t i" x="792.5" y="1278.5" font-size="16.2" stroke="#000" stroke-width="1.3" textLength="737" lengthAdjust="spacing">SOURCE: EDGE CUSTOMER BLOOD TEST RESULTS APR 2023 – MARCH 2025</text>

<!-- logo -->
<polygon points="78,75 233,75 226,120 71,120" fill="#fe4a0a"/>
<g fill="#000">
 <path d="M88.6,78.5 L113.7,78.5 L112.2,87.7 L98.9,87.7 L98.1,92.6 L110.1,92.6 L108.8,100.8 L96.8,100.8 L95.8,106.9 L108.7,106.9 L107.3,116 L82.3,116 Z"/>
 <path fill-rule="evenodd" d="M118.3,78.5 L132.6,78.5 C143.5,78.5 151.3,85.5 150.6,95 C149.8,107 140.5,116 129.1,116 L112.3,116 Z M129.6,89.1 L132.8,89.1 C136.8,89.1 139.4,92 138.9,96 C138.3,101.5 135,105.4 131.4,105.4 L125.6,105.4 Z"/>
 <path d="M191.8,91.6 C191.5,83 184,78.3 175.3,78.3 C163,78.3 154.2,89 154.2,101.2 C154.2,110 160.5,116.5 169.3,116.5 C181,116.5 189,110 190.6,102.7 L191.6,94.6 L172,94.6 L171,102.7 L180.3,102.7 C178.5,105 175.8,106.2 172.8,106.2 C168.5,106.2 166,103.5 166,99.6 C166,93.5 170,89.1 174.8,89.1 C178,89.1 180.3,90 181,91.6 Z"/>
 <path d="M198.9,78.5 L223.8,78.5 L222.4,87.7 L208.6,87.7 L207.8,92.6 L220,92.6 L218.8,100.8 L206.5,100.8 L205.6,106.9 L218.8,106.9 L217.4,116 L192.4,116 Z"/>
</g>
<!-- title -->
<text class="t i" transform="translate(268.6 112.1) scale(0.88 1)" font-size="30.9" stroke="#000" stroke-width="2.2" textLength="965" lengthAdjust="spacing">EGFR LEVELS IN MEN AND WOMEN BY AGE GROUP</text>
<!-- legend -->
<polygon points="601,186 640,186 628,224.5 586,224.5" fill="url(#gF)"/>
<text class="t i" x="657.2" y="214.4" font-size="25.8" stroke="#000" stroke-width="1.6" textLength="113" lengthAdjust="spacing">FEMALE</text>
<polygon points="835,186 874.5,186 861,224.5 820,224.5" fill="url(#gM)"/>
<text class="t i" x="891.2" y="214.4" font-size="25.8" stroke="#000" stroke-width="1.6" textLength="80" lengthAdjust="spacing">MALE</text>

<!-- axes -->
<g stroke="#000" stroke-width="3.8" fill="none">
 <path d="M210 334 V878"/>
 <path d="M197 878 H1485"/>
 <path d="M197 336 H212 M197 430.8 H212 M197 519.6 H212 M197 610.7 H212 M197 699.9 H212 M197 785.9 H212"/>
 <path d="M285 878 V893 M565 878 V893 M847 878 V893 M1127 878 V893 M1381 878 V893"/>
</g>
<g class="t" font-size="27.2" stroke="#000" stroke-width="1.1">
 <text transform="translate(139.2 344.7) scale(1.067 1.097)">100</text>
 <text transform="translate(152.1 439.7) scale(1.142 1.097)">95</text>
 <text transform="translate(152.1 530.8) scale(1.142 1.117)">90</text>
 <text transform="translate(152.1 621.0) scale(1.168 1.126)">85</text>
 <text transform="translate(151.6 710.1) scale(1.194 1.097)">80</text>
 <text transform="translate(151.6 796.0) scale(1.123 1.078)">75</text>
 <text transform="translate(151.5 885.1) scale(1.097 1.097)">70</text>
</g>
<g class="t" font-size="37.7" stroke="#000" stroke-width="1.5">
 <text transform="translate(223.1 960.7) scale(1.005 1.063)">18 – 29</text>
 <text transform="translate(499.5 960.7) scale(1.079 1.063)">30 – 39</text>
 <text transform="translate(778.8 960.7) scale(1.121 1.063)">40 – 49</text>
 <text transform="translate(1060.5 960.7) scale(1.095 1.063)">50 – 59</text>
 <text transform="translate(1346.9 960.7) scale(1.112 1.063)">60+</text>
</g>
<text class="t i" transform="translate(94.8 788) rotate(-90)" x="0" y="0" font-size="27.2" stroke="#000" stroke-width="1.8" textLength="364" lengthAdjust="spacing">eGFR (mL/min/1.73m*2)</text>
<text class="t i" x="788.2" y="1080.8" font-size="31.6" stroke="#000" stroke-width="2.2" textLength="72" lengthAdjust="spacing">AGE</text>

<!-- data lines -->
<polyline points="285,521.3 847,521.3 1127,593.1 1381,521" fill="none" stroke="url(#gMl)" stroke-width="12.2" stroke-linecap="round" stroke-linejoin="miter"/>
<polyline points="285,523.2 847,523.2 1127,593 1381,749" fill="none" stroke="url(#gFl)" stroke-width="11.5" stroke-linecap="round" stroke-linejoin="miter"/>
</svg>
</body></html>
